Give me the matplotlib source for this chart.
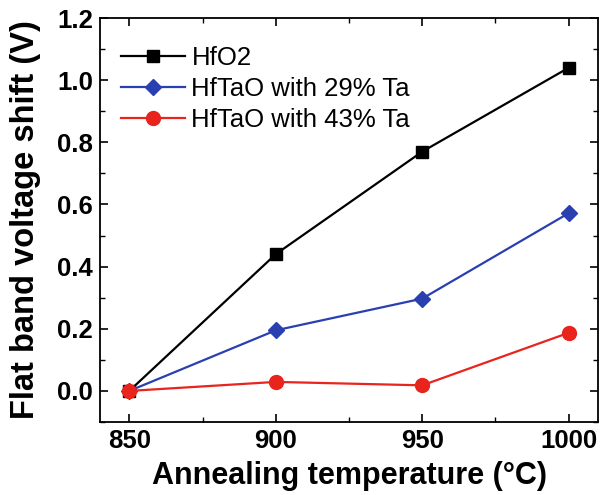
import matplotlib
matplotlib.use("Agg")
import matplotlib.pyplot as plt
from matplotlib.ticker import MultipleLocator

temps = [850, 900, 950, 1000]
hfo2 = [0.0, 0.44, 0.77, 1.04]
ta29 = [0.0, 0.195, 0.297, 0.572]
ta43 = [0.0, 0.029, 0.018, 0.187]
labels = ["HfO2", "HfTaO with 29% Ta", "HfTaO with 43% Ta"]

plt.rcParams['font.family'] = ['Liberation Sans', 'DejaVu Sans']

fig = plt.figure(figsize=(6.05, 4.95), dpi=100)
ax = fig.add_axes([100/605, 1-422/495, 498/605, 404/495])

ax.plot(temps, hfo2, color='black', marker='s', markersize=9, lw=1.6, label=labels[0])
ax.plot(temps, ta29, color='#2a3fb0', marker='D', markersize=8.5, lw=1.6, label=labels[1])
ax.plot(temps, ta43, color='#e8241c', marker='o', markersize=10, lw=1.6, label=labels[2])

ax.set_xlim(840, 1010)
ax.set_ylim(-0.1, 1.2)
ax.xaxis.set_major_locator(MultipleLocator(50))
ax.xaxis.set_minor_locator(MultipleLocator(25))
ax.yaxis.set_major_locator(MultipleLocator(0.2))
ax.yaxis.set_minor_locator(MultipleLocator(0.1))
ax.yaxis.set_major_formatter(plt.FormatStrFormatter('%.1f'))
ax.tick_params(which='both', direction='in', top=True, right=True, labeltop=False, labelright=False)
ax.tick_params(which='major', length=6, width=1.2, labelsize=18.5, pad=5)
ax.tick_params(which='minor', length=3.5, width=1.0)
for lab in ax.get_xticklabels() + ax.get_yticklabels():
    lab.set_fontweight('bold')
for s in ax.spines.values():
    s.set_linewidth(1.3)

ax.set_xlabel('Annealing temperature (°C)', fontsize=22, fontweight='bold', labelpad=6)
ax.set_ylabel('Flat band voltage shift (V)', fontsize=23.5, fontweight='bold', labelpad=12)

ax.legend(loc='upper left', frameon=False, fontsize=18.5, handlelength=2.5,
          borderaxespad=0.0, labelspacing=0.27, handletextpad=0.25,
          bbox_to_anchor=(0.021, 0.957))

fig.savefig('out.png', dpi=100)
